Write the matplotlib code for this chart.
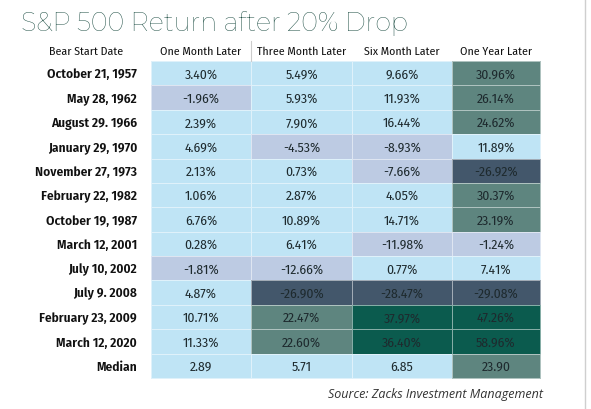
import matplotlib
matplotlib.use('Agg')
import matplotlib.pyplot as plt
from matplotlib.colors import ListedColormap, BoundaryNorm
import numpy as np

plt.rcParams['font.family'] = ['Fira Sans Condensed', 'DejaVu Sans']

# data
dates = ['October 21, 1957', 'May 28, 1962', 'August 29. 1966', 'January 29, 1970',
         'November 27, 1973', 'February 22, 1982', 'October 19, 1987', 'March 12, 2001',
         'July 10, 2002', 'July 9. 2008', 'February 23, 2009', 'March 12, 2020', 'Median']
columns = ['One Month Later', 'Three Month Later', 'Six Month Later', 'One Year Later']
one_month = [3.40, -1.96, 2.39, 4.69, 2.13, 1.06, 6.76, 0.28, -1.81, 4.87, 10.71, 11.33, 2.89]
three_month = [5.49, 5.93, 7.90, -4.53, 0.73, 2.87, 10.89, 6.41, -12.66, -26.90, 22.47, 22.60, 5.71]
six_month = [9.66, 11.93, 16.44, -8.93, -7.66, 4.05, 14.71, -11.98, 0.77, -28.47, 37.97, 36.40, 6.85]
one_year = [30.96, 26.14, 24.62, 11.89, -26.92, 30.37, 23.19, -1.24, 7.41, -29.08, 47.26, 58.96, 23.90]

vals = np.array([one_month, three_month, six_month, one_year]).T
nrow, ncol = vals.shape

# colour bins
bins = [-100, -20, 0, 20, 35, 100]
cmap = ListedColormap(['#43576b', '#bdcbe3', '#bfe4f5', '#5e857f', '#0b5b4e'])
norm = BoundaryNorm(bins, cmap.N)

fig = plt.figure(figsize=(5.91, 4.10), dpi=100)
ax = fig.add_axes([0, 0, 1, 1])
ax.set_xlim(0, 591)
ax.set_ylim(410, 0)
ax.axis('off')

xedges = np.array([151, 251, 352, 452, 540])
top, bottom = 62, 379
yedges = np.linspace(top, bottom, nrow + 1)

ax.pcolormesh(xedges, yedges, vals, cmap=cmap, norm=norm,
              edgecolor=(1, 1, 1, 0.5), linewidth=0.7)

xc = (xedges[:-1] + xedges[1:]) / 2
yc = (yedges[:-1] + yedges[1:]) / 2
txt_col = '#1e2a2e'
for i in range(nrow):
    for j in range(ncol):
        v = vals[i, j]
        s = '%.2f' % v if i == nrow - 1 else '%.2f%%' % v
        ax.text(xc[j], yc[i] + 0.5, s, ha='center', va='center',
                fontsize=9.8, fontweight=400, color=txt_col)
    ax.text(137, yc[i] + 0.5, dates[i], ha='right', va='center',
            fontsize=9.6, fontweight=600, color='#111111')

hy = 52
ax.text(86, hy, 'Bear Start Date', ha='center', va='center', fontsize=8.5,
        fontweight=400, color='#111111')
for j, c in enumerate(columns):
    ax.text(xc[j], hy, c, ha='center', va='center', fontsize=8.5,
            fontweight=400, color='#111111')

# header divider and page edge
ax.plot([251, 251], [42, top], color='#cccccc', lw=0.8)
ax.plot([585, 585], [0, 410], color='#cfcfcf', lw=1)

ax.text(21, 23, 'S&P 500 Return after 20% Drop', ha='left', va='center',
        fontsize=18.4, color='#1f4f45', family=['Montserrat', 'Lato', 'DejaVu Sans'],
        fontweight=300)
ax.text(543, 395, 'Source: Zacks Investment Management', ha='right', va='center',
        fontsize=9, style='italic', color='#333333', family=['Open Sans', 'DejaVu Sans'])

fig.savefig('out.png', dpi=100)
